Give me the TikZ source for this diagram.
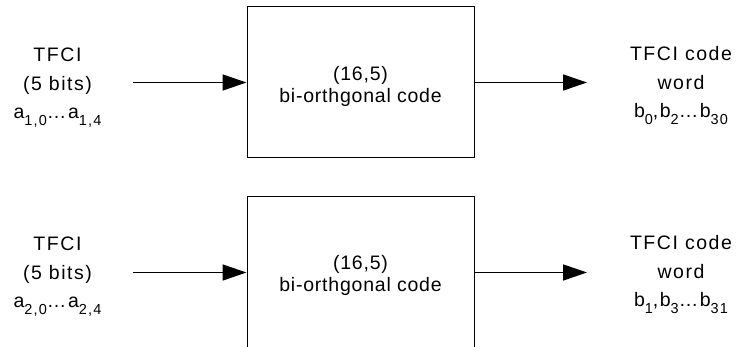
\documentclass[tikz,border=0pt]{standalone}
\usepackage{fontspec}
\setmainfont{Liberation Sans}
\newfontfamily\lblfont[LetterSpace=8]{Liberation Sans}
\newfontfamily\boxtextfont[LetterSpace=4]{Liberation Sans}
\usetikzlibrary{arrows.meta}
\newcommand\subtxt[1]{\raisebox{-6.5pt}{\fontsize{14.5}{14.5}\selectfont #1}}
\begin{document}
\begin{tikzpicture}[x=1pt,y=-1pt,
  lbl/.style={align=center, inner sep=0pt, font=\lblfont\fontsize{19.5}{28.5}\selectfont, anchor=base},
  codebox/.style={draw, line width=1pt, minimum width=227pt, minimum height=151pt, inner sep=0pt},
  boxtext/.style={align=center, inner sep=0pt, font=\boxtextfont\fontsize{19.5}{22}\selectfont, anchor=base},
  flow/.style={line width=1.7pt, -{Triangle[length=24pt,width=16pt]}}]
\useasboundingbox (0,0) rectangle (739,347);
\clip (0,0) rectangle (739,347);
% top row
\node[codebox] (enc1) at (360.5,82.5) {};
\node[boxtext] (enc1txt) at (360.5,103) {(16,5)\\bi-orthgonal code};
\node[lbl] (in1txt) at (57.5,119) {TFCI\\(5 bits)\\a\subtxt{1,0}…a\subtxt{1,4}};
\node[lbl] (out1txt) at (681,118) {TFCI code\\word\\b\subtxt{0},b\subtxt{2}…b\subtxt{30}};
\coordinate (in1) at (133,82.5);
\coordinate (out1) at (587,82.5);
\draw[flow] (in1) -- (enc1.west);
\draw[flow] (enc1.east) -- (out1);
% bottom row
\node[codebox] (enc2) at (360.5,272.5) {};
\node[boxtext] (enc2txt) at (360.5,292) {(16,5)\\bi-orthgonal code};
\node[lbl] (in2txt) at (57.5,308) {TFCI\\(5 bits)\\a\subtxt{2,0}…a\subtxt{2,4}};
\node[lbl] (out2txt) at (681,307) {TFCI code\\word\\b\subtxt{1},b\subtxt{3}…b\subtxt{31}};
\coordinate (in2) at (133,272.5);
\coordinate (out2) at (587,272.5);
\draw[flow] (in2) -- (enc2.west);
\draw[flow] (enc2.east) -- (out2);
\end{tikzpicture}
\end{document}
